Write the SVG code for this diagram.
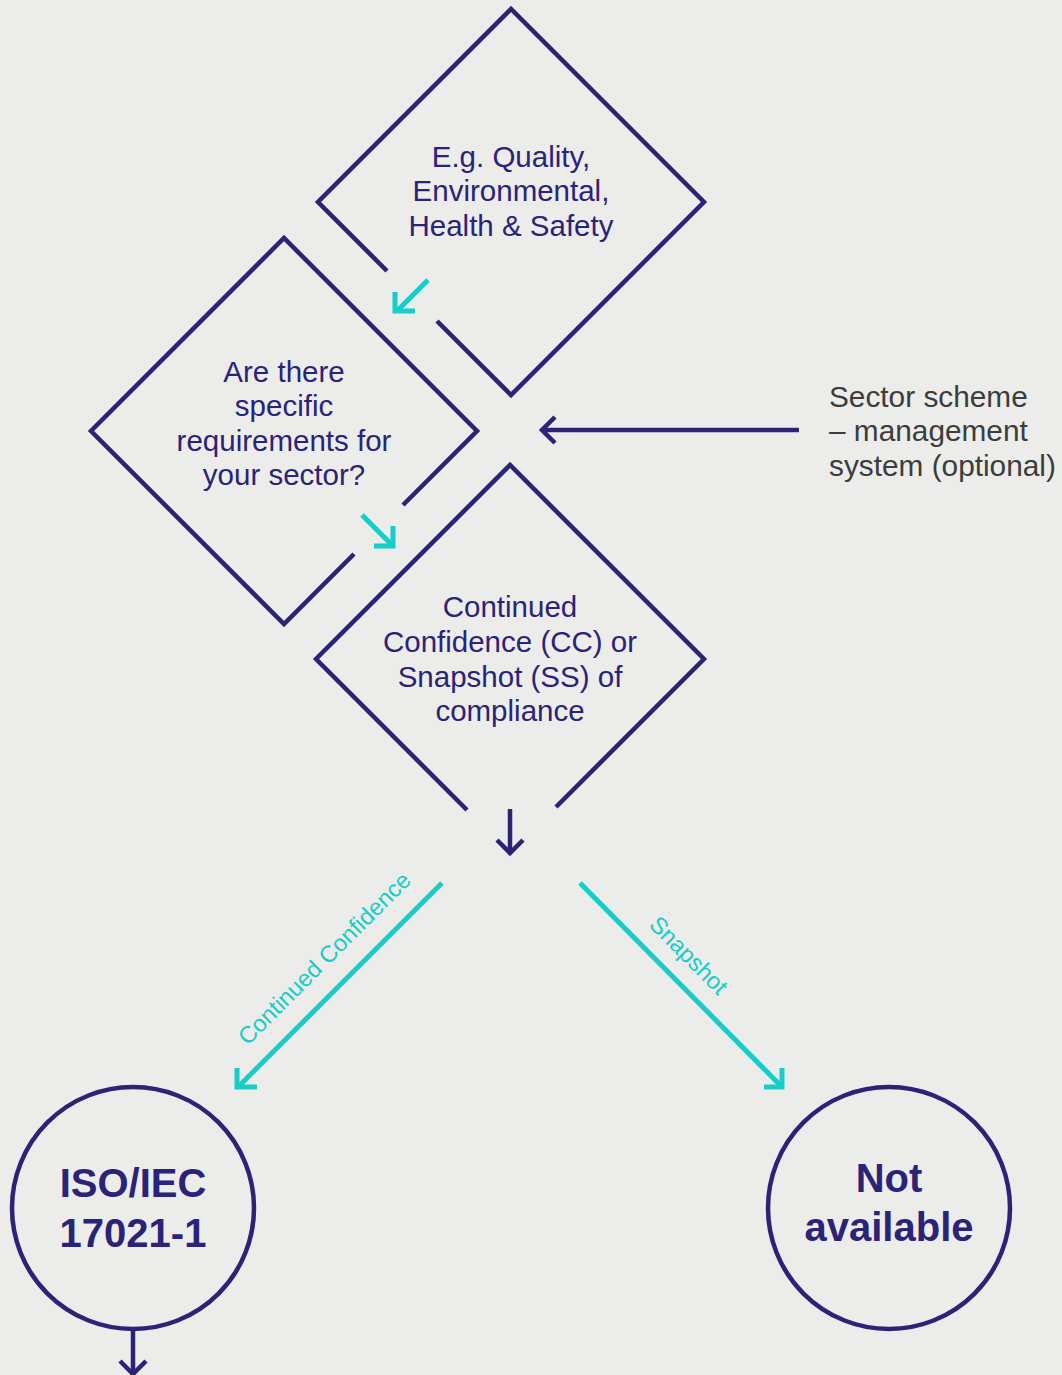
<svg xmlns="http://www.w3.org/2000/svg" width="1062" height="1375" viewBox="0 0 1062 1375">
<style>
.shape{fill:none;stroke:#2a2378;stroke-width:4.5;stroke-linecap:butt;stroke-linejoin:miter}
.navy{fill:none;stroke:#2a2378;stroke-width:4.5}
.cyan{fill:none;stroke:#17cdc7;stroke-width:5;stroke-linecap:butt}
.t{font-family:"Liberation Sans",Arial,sans-serif;font-size:29.5px;fill:#2a2378;text-anchor:middle}
.b{font-family:"Liberation Sans",Arial,sans-serif;font-size:40px;font-weight:bold;fill:#2a2378;text-anchor:middle}
.g{font-family:"Liberation Sans",Arial,sans-serif;font-size:29.8px;fill:#3c3c3c}
.c{font-family:"Liberation Sans",Arial,sans-serif;font-size:23.5px;fill:#17cdc7;text-anchor:middle}
</style>
<rect width="1062" height="1375" fill="#ececea"/>
<g id="node-types">
<path class="shape" d="M387,271 L318,202 L511,9 L704,202 L511,395 L437,321"/>
<text class="t" x="511" y="167">E.g. Quality,</text>
<text class="t" x="511" y="201">Environmental,</text>
<text class="t" x="511" y="236">Health &amp; Safety</text>
</g>
<g id="node-sector-question">
<path class="shape" d="M403,505 L477,431 L284,238 L91,431 L284,624 L354,554"/>
<text class="t" x="284" y="382">Are there</text>
<text class="t" x="284" y="416">specific</text>
<text class="t" x="284" y="451">requirements for</text>
<text class="t" x="284" y="485">your sector?</text>
</g>
<g id="node-cc-ss">
<path class="shape" d="M467,810 L316,659 L510,465 L704,659 L556,807"/>
<text class="t" x="510" y="617">Continued</text>
<text class="t" x="510" y="652">Confidence (CC) or</text>
<text class="t" x="510" y="687">Snapshot (SS) of</text>
<text class="t" x="510" y="721">compliance</text>
</g>
<g id="node-sector-scheme">
<text class="g" x="829" y="407">Sector scheme</text>
<text class="g" x="829" y="441">– management</text>
<text class="g" x="829" y="476">system (optional)</text>
</g>
<g id="node-iso">
<circle class="shape" cx="133" cy="1208" r="121"/>
<text class="b" x="133" y="1197">ISO/IEC</text>
<text class="b" x="133" y="1247">17021-1</text>
</g>
<g id="node-not-available">
<circle class="shape" cx="889" cy="1208" r="121"/>
<text class="b" x="889" y="1192">Not</text>
<text class="b" x="889" y="1241">available</text>
</g>
<g id="connectors">
<path class="cyan" d="M428,280 L397,311"/>
<path class="cyan" d="M395,292 L395,311 L415,311"/>
<path class="cyan" d="M362,515 L392,545"/>
<path class="cyan" d="M393,526 L393,546 L374,546"/>
<path class="navy" d="M510,809 L510,853"/>
<path class="navy" d="M497,840 L510,853 L523,840"/>
<path class="navy" d="M799,430 L542,430"/>
<path class="navy" d="M555,417 L542,430 L555,443"/>
<path class="cyan" d="M442,883 L240,1085"/>
<path class="cyan" d="M237,1068 L237,1087 L257,1087"/>
<path class="cyan" d="M580,883 L780,1085"/>
<path class="cyan" d="M782,1068 L782,1087 L764,1087"/>
<path class="navy" d="M133,1329 L133,1375"/>
<path class="navy" d="M120,1361 L133,1374 L146,1361"/>
<text class="c" x="330" y="964" transform="rotate(-45 330 964)">Continued Confidence</text>
<text class="c" x="683" y="961" transform="rotate(45 683 961)">Snapshot</text>
</g>
</svg>
